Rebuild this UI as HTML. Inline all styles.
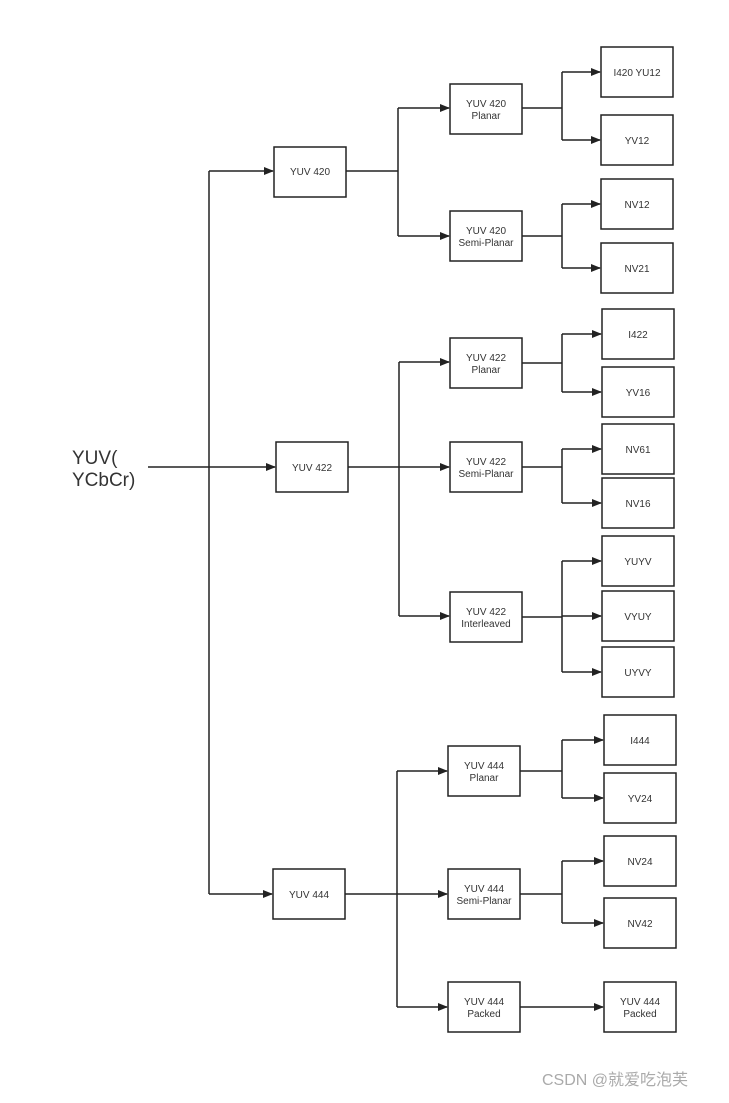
<!DOCTYPE html>
<html><head><meta charset="utf-8"><style>
html,body{margin:0;padding:0;background:#fff;}
svg text{font-family:"Liberation Sans","Noto Sans CJK SC",sans-serif;fill:#333;}
</style></head><body>
<svg width="729" height="1098" viewBox="0 0 729 1098" xmlns="http://www.w3.org/2000/svg">
<defs><marker id="a" markerWidth="10" markerHeight="8" refX="9" refY="4" orient="auto" markerUnits="userSpaceOnUse"><path d="M0,0 L10,4 L0,8 z" fill="#222"/></marker></defs>
<g stroke="#222" stroke-width="1.5" fill="none">
<path d="M148,467 H275" marker-end="url(#a)"/>
<path d="M209,171 V894"/>
<path d="M209,171 H273" marker-end="url(#a)"/>
<path d="M209,894 H272" marker-end="url(#a)"/>
<!-- 420 -->
<path d="M346,171 H398 M398,108 V236"/>
<path d="M398,108 H449" marker-end="url(#a)"/><path d="M398,236 H449" marker-end="url(#a)"/>
<path d="M522,108 H562 M562,72 V140"/>
<path d="M562,72 H600" marker-end="url(#a)"/><path d="M562,140 H600" marker-end="url(#a)"/>
<path d="M522,236 H562 M562,204 V268"/>
<path d="M562,204 H600" marker-end="url(#a)"/><path d="M562,268 H600" marker-end="url(#a)"/>
<!-- 422 -->
<path d="M348,467 H399 M399,362 V616"/>
<path d="M399,362 H449" marker-end="url(#a)"/><path d="M399,467 H449" marker-end="url(#a)"/><path d="M399,616 H449" marker-end="url(#a)"/>
<path d="M522,363 H562 M562,334 V392"/>
<path d="M562,334 H601" marker-end="url(#a)"/><path d="M562,392 H601" marker-end="url(#a)"/>
<path d="M522,467 H562 M562,449 V503"/>
<path d="M562,449 H601" marker-end="url(#a)"/><path d="M562,503 H601" marker-end="url(#a)"/>
<path d="M522,617 H562 M562,561 V672"/>
<path d="M562,561 H601" marker-end="url(#a)"/><path d="M562,616 H601" marker-end="url(#a)"/><path d="M562,672 H601" marker-end="url(#a)"/>
<!-- 444 -->
<path d="M345,894 H397 M397,771 V1007"/>
<path d="M397,771 H447" marker-end="url(#a)"/><path d="M397,894 H447" marker-end="url(#a)"/><path d="M397,1007 H447" marker-end="url(#a)"/>
<path d="M520,771 H562 M562,740 V798"/>
<path d="M562,740 H603" marker-end="url(#a)"/><path d="M562,798 H603" marker-end="url(#a)"/>
<path d="M520,894 H562 M562,861 V923"/>
<path d="M562,861 H603" marker-end="url(#a)"/><path d="M562,923 H603" marker-end="url(#a)"/>
<path d="M520,1007 H603" marker-end="url(#a)"/>
</g>
<g stroke="#222" stroke-width="1.5" fill="#fff">
<rect x="274" y="147" width="72" height="50"/><rect x="276" y="442" width="72" height="50"/><rect x="273" y="869" width="72" height="50"/>
<rect x="450" y="84" width="72" height="50"/><rect x="450" y="211" width="72" height="50"/>
<rect x="450" y="338" width="72" height="50"/><rect x="450" y="442" width="72" height="50"/><rect x="450" y="592" width="72" height="50"/>
<rect x="448" y="746" width="72" height="50"/><rect x="448" y="869" width="72" height="50"/><rect x="448" y="982" width="72" height="50"/>
<rect x="601" y="47" width="72" height="50"/><rect x="601" y="115" width="72" height="50"/><rect x="601" y="179" width="72" height="50"/><rect x="601" y="243" width="72" height="50"/>
<rect x="602" y="309" width="72" height="50"/><rect x="602" y="367" width="72" height="50"/><rect x="602" y="424" width="72" height="50"/><rect x="602" y="478" width="72" height="50"/>
<rect x="602" y="536" width="72" height="50"/><rect x="602" y="591" width="72" height="50"/><rect x="602" y="647" width="72" height="50"/>
<rect x="604" y="715" width="72" height="50"/><rect x="604" y="773" width="72" height="50"/><rect x="604" y="836" width="72" height="50"/><rect x="604" y="898" width="72" height="50"/><rect x="604" y="982" width="72" height="50"/>
</g>
<g font-size="10" text-anchor="middle">
<text x="310" y="175">YUV 420</text><text x="312" y="471">YUV 422</text><text x="309" y="898">YUV 444</text>
<text x="486" y="107">YUV 420</text><text x="486" y="119">Planar</text>
<text x="486" y="234">YUV 420</text><text x="486" y="246">Semi-Planar</text>
<text x="486" y="361">YUV 422</text><text x="486" y="373">Planar</text>
<text x="486" y="465">YUV 422</text><text x="486" y="477">Semi-Planar</text>
<text x="486" y="615">YUV 422</text><text x="486" y="627">Interleaved</text>
<text x="484" y="769">YUV 444</text><text x="484" y="781">Planar</text>
<text x="484" y="892">YUV 444</text><text x="484" y="904">Semi-Planar</text>
<text x="484" y="1005">YUV 444</text><text x="484" y="1017">Packed</text>
<text x="637" y="76">I420 YU12</text><text x="637" y="144">YV12</text><text x="637" y="208">NV12</text><text x="637" y="272">NV21</text>
<text x="638" y="338">I422</text><text x="638" y="396">YV16</text><text x="638" y="453">NV61</text><text x="638" y="507">NV16</text>
<text x="638" y="565">YUYV</text><text x="638" y="620">VYUY</text><text x="638" y="676">UYVY</text>
<text x="640" y="744">I444</text><text x="640" y="802">YV24</text><text x="640" y="865">NV24</text><text x="640" y="927">NV42</text>
<text x="640" y="1005">YUV 444</text><text x="640" y="1017">Packed</text>
</g>
<text x="72" y="464" font-size="19">YUV(</text>
<text x="72" y="486" font-size="19">YCbCr)</text>
<text x="542" y="1085" font-size="16" fill="#999" style="fill:#aaa">CSDN @就爱吃泡芙</text>
</svg>
</body></html>
